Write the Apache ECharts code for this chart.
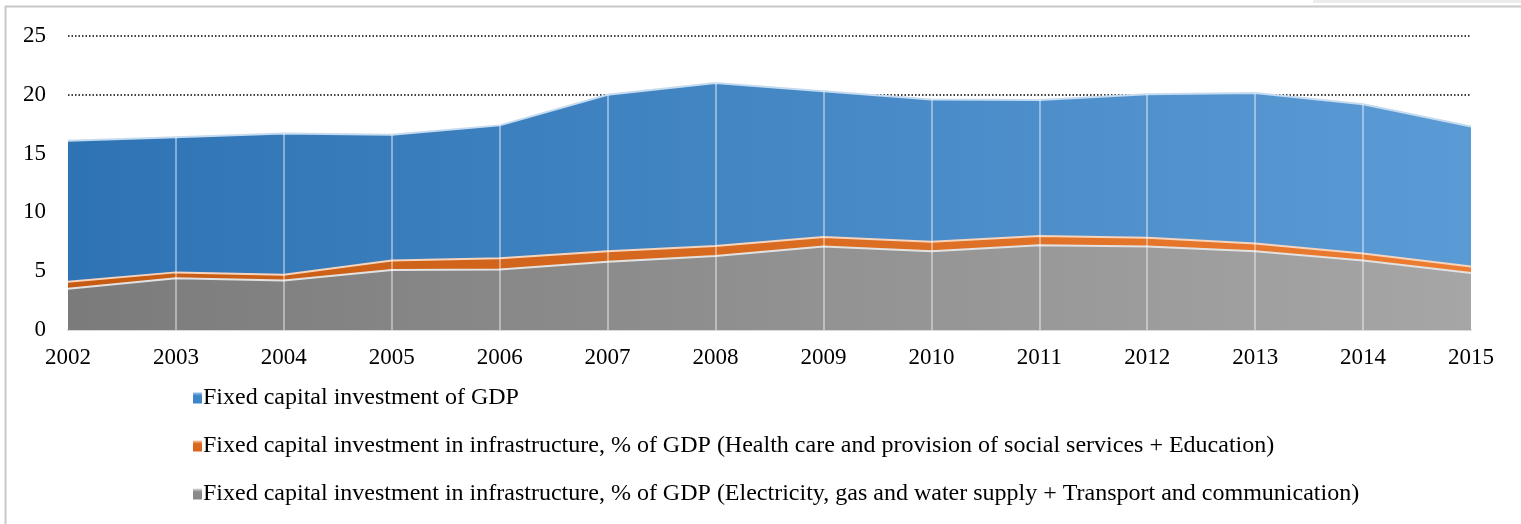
<!DOCTYPE html>
<html>
<head>
<meta charset="utf-8">
<style>
  html, body { margin: 0; padding: 0; background: #fff; }
  #chart { width: 1521px; height: 524px; }
</style>
<script src="https://cdn.jsdelivr.net/npm/echarts@6/dist/echarts.min.js"></script>
</head>
<body>
<div id="chart"></div>
<script>
// Years on the horizontal axis
const years = ['2002', '2003', '2004', '2005', '2006', '2007', '2008',
               '2009', '2010', '2011', '2012', '2013', '2014', '2015'];

// Fixed capital investment, % of GDP (total)
const totalInvestment = [16.1, 16.4, 16.7, 16.6, 17.4, 20.0, 21.0,
                         20.3, 19.6, 19.55, 20.05, 20.15, 19.2, 17.3];

// Infrastructure: health care, social services and education (top of band)
const socialInfra = [4.1, 4.9, 4.7, 5.9, 6.1, 6.7, 7.15,
                     7.9, 7.5, 8.0, 7.85, 7.35, 6.5, 5.4];

// Infrastructure: electricity, gas, water, transport and communication
const utilityInfra = [3.5, 4.4, 4.2, 5.1, 5.15, 5.8, 6.3,
                      7.1, 6.7, 7.2, 7.1, 6.7, 5.9, 4.85];

const seriesNames = [
  'Fixed capital investment of GDP',
  'Fixed capital investment in infrastructure, % of GDP (Health care and provision of social services + Education)',
  'Fixed capital investment in infrastructure, % of GDP (Electricity, gas and water supply + Transport and communication)'
];

const yTicks = { min: 0, max: 25, interval: 5 };

const FONT = '"Liberation Serif", "DejaVu Serif", serif';

function hGrad(from, to) {
  return new echarts.graphic.LinearGradient(0, 0, 1, 0, [
    { offset: 0, color: from },
    { offset: 1, color: to }
  ]);
}
function vGrad(top, bottom) {
  return new echarts.graphic.LinearGradient(0, 0, 0, 1, [
    { offset: 0, color: top },
    { offset: 0.3, color: bottom },
    { offset: 1, color: bottom }
  ]);
}

// vertical drop lines at each interior year, from the axis up to the total
const dropLines = years.slice(1, years.length - 1).map((y, k) => {
  const i = k + 1;
  return [{ coord: [y, 0] }, { coord: [y, totalInvestment[i]] }];
});

const chart = echarts.init(document.getElementById('chart'), null, { renderer: 'canvas' });

chart.setOption({
  animation: false,
  backgroundColor: '#ffffff',
  textStyle: { fontFamily: FONT },
  graphic: [
    { type: 'rect', shape: { x: 1313, y: 0, width: 208, height: 3 }, style: { fill: '#ececec' }, silent: true },
    { type: 'line', shape: { x1: 5, y1: 6.5, x2: 1521, y2: 6.5 }, style: { stroke: '#c8c8c8', lineWidth: 2 }, silent: true },
    { type: 'line', shape: { x1: 5.5, y1: 6, x2: 5.5, y2: 524 }, style: { stroke: '#c8c8c8', lineWidth: 2 }, silent: true }
  ],
  grid: { left: 68, right: 50, top: 36, bottom: 194, containLabel: false },
  legend: {
    orient: 'vertical',
    left: 188,
    top: 381,
    itemGap: 24,
    itemWidth: 9,
    itemHeight: 11,
    icon: 'rect',
    selectedMode: false,
    textStyle: { fontFamily: FONT, fontSize: 24, lineHeight: 24, color: '#000', padding: [0, 0, 0, -4] },
    data: [
      { name: seriesNames[0], itemStyle: { color: vGrad('#9dc3e6', '#3f85c6') } },
      { name: seriesNames[1], itemStyle: { color: vGrad('#f8cbad', '#d9661c') } },
      { name: seriesNames[2], itemStyle: { color: vGrad('#e0e0e0', '#8a8a8a') } }
    ]
  },
  xAxis: {
    type: 'category',
    data: years,
    boundaryGap: false,
    axisLine: { show: true, lineStyle: { color: '#d9d9d9', width: 2 } },
    axisTick: { show: false },
    axisLabel: { color: '#000', fontFamily: FONT, fontSize: 23, margin: 16 },
    splitLine: { show: false }
  },
  yAxis: {
    type: 'value',
    min: yTicks.min,
    max: yTicks.max,
    interval: yTicks.interval,
    axisLine: { show: false },
    axisTick: { show: false },
    axisLabel: { color: '#000', fontFamily: FONT, fontSize: 23, margin: 22 },
    splitLine: { show: true, lineStyle: { color: '#000', type: [1.5, 2], width: 1.5 } }
  },
  series: [
    {
      name: seriesNames[0],
      type: 'line',
      data: totalInvestment,
      symbol: 'none',
      z: 2,
      lineStyle: { color: '#c5dbf0', width: 2 },
      areaStyle: { color: hGrad('#2e73b4', '#5b9bd5'), opacity: 1 },
      itemStyle: { color: '#3f85c6' }
    },
    {
      name: seriesNames[1],
      type: 'line',
      data: socialInfra,
      symbol: 'none',
      z: 3,
      lineStyle: { color: '#f6d4bd', width: 2 },
      areaStyle: { color: hGrad('#c55a11', '#ed7d31'), opacity: 1 },
      itemStyle: { color: '#d9661c' }
    },
    {
      name: seriesNames[2],
      type: 'line',
      data: utilityInfra,
      symbol: 'none',
      z: 4,
      lineStyle: { color: '#e2e2e2', width: 2 },
      areaStyle: { color: hGrad('#7b7b7b', '#a6a6a6'), opacity: 1 },
      itemStyle: { color: '#8a8a8a' },
      markLine: {
        silent: true,
        symbol: ['none', 'none'],
        label: { show: false },
        lineStyle: { color: 'rgba(255,255,255,0.55)', width: 1.5, type: 'solid' },
        data: dropLines
      }
    }
  ]
});
</script>
</body>
</html>
